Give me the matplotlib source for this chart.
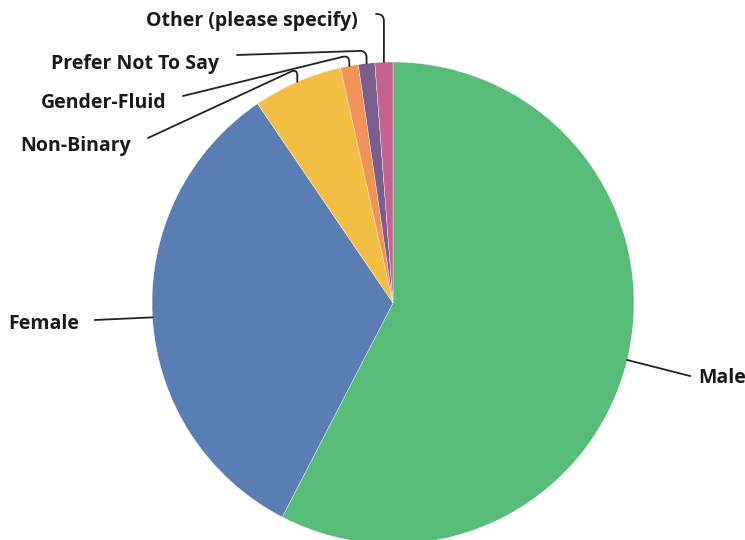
import matplotlib
matplotlib.use("Agg")
import matplotlib.pyplot as plt
import math

# gender breakdown, percent
labels = ['Male', 'Female', 'Non-Binary', 'Gender-Fluid', 'Prefer Not To Say', 'Other (please specify)']
values = [57.6, 32.9, 6.0, 1.2, 1.1, 1.2]
colors = ['#57BC78', '#5A7DB3', '#F2BF44', '#F09358', '#7A5E8E', '#C5638F']

plt.rcParams['font.family'] = ['Open Sans', 'DejaVu Sans']

fig = plt.figure(figsize=(7.45, 5.4), dpi=100)
ax = fig.add_axes([0, 0, 1, 1])

cx, cy, r = 393, 237, 241
wedges, _ = ax.pie(values, colors=colors, startangle=90, counterclock=False,
                   center=(cx, cy), radius=r, frame=True,
                   wedgeprops=dict(edgecolor='white', linewidth=0.25))
# axes in pixel units (y up)
ax.set_xlim(0, 745)
ax.set_ylim(0, 540)
ax.set_aspect('equal')
ax.axis('off')

def edge_point(w):
    a = math.radians((w.theta1 + w.theta2) / 2)
    return cx + r * math.cos(a), cy + r * math.sin(a)

# label anchor, alignment, and slant of the leader line (None = straight line)
label_pos = {
    'Male': (698, 540 - 378, 'left', None),
    'Female': (79, 540 - 324, 'right', None),
    'Non-Binary': (131, 540 - 146, 'right', 24.9),
    'Gender-Fluid': (166, 540 - 103, 'right', 13.8),
    'Prefer Not To Say': (219, 540 - 64, 'right', 1.9),
    'Other (please specify)': (358, 540 - 21, 'right', 0),
}
line_start = {
    'Male': (690, 540 - 376),
    'Female': (95, 540 - 320),
    'Non-Binary': (148, 540 - 138),
    'Gender-Fluid': (183, 540 - 96),
    'Prefer Not To Say': (237, 540 - 55),
    'Other (please specify)': (376, 540 - 14),
}

for w, name in zip(wedges, labels):
    tx, ty, ha, ang = label_pos[name]
    ax.text(tx, ty, name, ha=ha, va='center', fontsize=14,
            fontweight='bold', color='#1a1a1a')
    px, py = edge_point(w)
    sx, sy = line_start[name]
    if ang is None:
        ax.plot([px, sx], [py, sy], color='#222222', lw=1.3)
    else:
        ax.annotate('', xy=(px, py), xytext=(sx, sy),
                    arrowprops=dict(arrowstyle='-', color='#222222', lw=1.3,
                                    shrinkA=0, shrinkB=0,
                                    connectionstyle='angle,angleA=%g,angleB=90,rad=7' % ang))

fig.savefig('out.png', dpi=100)
